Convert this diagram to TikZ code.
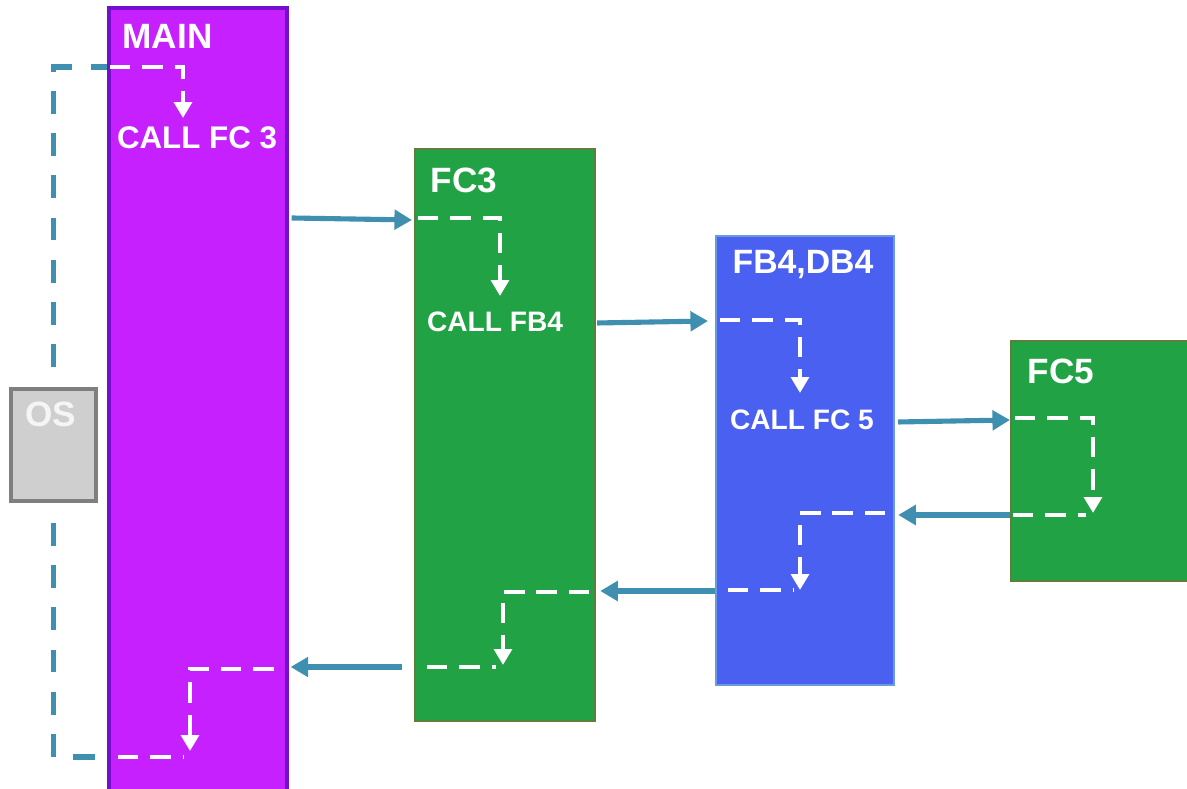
\documentclass[tikz,border=0pt]{standalone}
\usepackage{fontspec}
\setmainfont{Liberation Sans}
\usetikzlibrary{arrows.meta, positioning}

\definecolor{mainpurple}{HTML}{C620FF}
\definecolor{mainedge}{HTML}{7410CC}
\definecolor{fcgreen}{HTML}{21A244}
\definecolor{fcedge}{HTML}{5E7F3A}
\definecolor{fbblue}{HTML}{4A60F0}
\definecolor{fbedge}{HTML}{6A9AE0}
\definecolor{osgray}{HTML}{D0CFCF}
\definecolor{osedge}{HTML}{7F7F7F}
\definecolor{callteal}{HTML}{3F8FB0}

\begin{document}
\begin{tikzpicture}[
    x=0.01cm, y=-0.01cm,
    block/.style={
        draw,
        line width=0.6pt,
        anchor=north west,
        inner sep=0pt
    },
    title/.style={
        anchor=west,
        inner sep=0pt,
        text=white,
        font=\fontsize{10}{12}\selectfont\bfseries
    },
    calltext/.style={
        inner sep=0pt,
        text=white,
        font=\fontsize{8}{10}\selectfont\bfseries
    },
    callarrow/.style={-{Triangle[length=5pt,width=5.5pt]}, callteal, line width=1.45pt},
    osline/.style={callteal, line width=1.6pt, dash pattern=on 6.5pt off 5.5pt},
    flow/.style={-{Triangle[length=4.5pt,width=5pt]}, white, line width=1.4pt,
        dash pattern=on 5.8pt off 3.4pt},
    flowline/.style={white, line width=1.4pt, dash pattern=on 5.8pt off 3.4pt}
]
\useasboundingbox (0,0) rectangle (1187,789);

% blocks
\node[block, fill=mainpurple, draw=mainedge, line width=1pt, minimum width=1.78cm, minimum height=7.95cm] (main) at (107,6) {};
\node[block, fill=fcgreen, draw=fcedge, minimum width=1.80cm, minimum height=5.72cm] (fc3) at (414,148) {};
\node[block, fill=fbblue, draw=fbedge, minimum width=1.78cm, minimum height=4.49cm] (fb4) at (715,235) {};
\node[block, fill=fcgreen, draw=fcedge, minimum width=1.90cm, minimum height=2.40cm] (fc5) at (1010,340) {};
\node[block, fill=osgray, draw=osedge, line width=1.1pt, minimum width=0.85cm, minimum height=1.12cm] (os) at (9,387) {};

% titles
\node[title] (maintitle) at (122,36) {MAIN};
\node[title] (fc3title) at (430,180) {FC3};
\node[title, font=\fontsize{9.6}{12}\selectfont\bfseries] (fb4title) at (732,265) {FB4,DB4};
\node[title] (fc5title) at (1027,371) {FC5};
\node[title, anchor=center, text=white!96!black] (ostitle) at (51,414) {OS};

% calls
\node[calltext, font=\fontsize{8.9}{11}\selectfont\bfseries] (callfc3) at (197,138) {CALL FC 3};
\node[calltext] (callfb4) at (495,322) {CALL FB4};
\node[calltext] (callfc5) at (802,420) {CALL FC 5};

% OS loop
\draw[osline] ([yshift=0.2cm]os.north) -- (os.north |- 0,67) -- (main.west |- 0,67);
\draw[osline] ([yshift=-0.2cm]os.south) -- (os.south |- 0,757) -- (main.west |- 0,757);

% calls going out
\draw[callarrow] ([xshift=0.03cm]main.east |- 0,218) -- ([xshift=-0.02cm]fc3.west |- 0,220);
\draw[callarrow] ([xshift=0.01cm]fc3.east |- 0,323) -- ([xshift=-0.07cm]fb4.west |- 0,321);
\draw[callarrow] ([xshift=0.03cm]fb4.east |- 0,422) -- (fc5.west |- 0,420);

% returns
\draw[callarrow] (fc5.west |- 0,515) -- ([xshift=0.03cm]fb4.east |- 0,515);
\draw[callarrow] (fb4.west |- 0,591) -- ([xshift=0.04cm]fc3.east |- 0,591);
\draw[callarrow] ([xshift=-0.12cm]fc3.west |- 0,667) -- ([xshift=0.02cm]main.east |- 0,667);

% flow inside blocks
\draw[flow] ([xshift=0.03cm]main.west |- 0,67) -| (183,118);
\draw[flow] ([xshift=0.04cm]fc3.west |- 0,218) -| (500,296);
\draw[flow] ([xshift=0.05cm]fb4.west |- 0,320) -| (800,393);
\draw[flow] ([xshift=0.05cm]fc5.west |- 0,418) -| (1093,513);
\draw[flowline] ([xshift=0.03cm]fc5.west |- 0,515) -- (1086,515);

\draw[flow] ([xshift=-0.10cm]fb4.east |- 0,513) -| (800,590);
\draw[flowline] ([xshift=0.13cm]fb4.west |- 0,590) -- (794,590);
\draw[flow] ([xshift=-0.07cm]fc3.east |- 0,592) -| (503,665);
\draw[flowline] ([xshift=0.13cm]fc3.west |- 0,667) -- (496,667);
\draw[flow] ([xshift=-0.15cm]main.east |- 0,669) -| (190,751);
\draw[flowline] ([xshift=0.11cm]main.west |- 0,757) -- (184,757);
\end{tikzpicture}
\end{document}
